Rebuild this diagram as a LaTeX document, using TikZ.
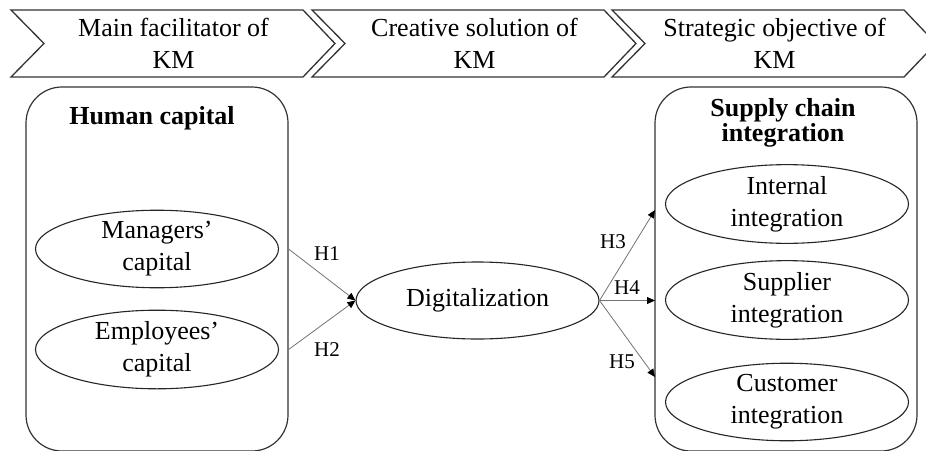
\documentclass[tikz,border=0pt]{standalone}
\usepackage{fontspec}
\setmainfont{Liberation Serif}
\usetikzlibrary{shapes.geometric,arrows.meta}
\tikzset{
  txt/.style={font=\fontsize{26}{32}\selectfont,align=center,inner sep=0pt},
  ttl/.style={font=\bfseries\fontsize{26}{22}\selectfont,align=center,inner sep=0pt},
  hyp/.style={font=\fontsize{21}{25}\selectfont,inner sep=0pt},
  chev/.style={draw=black!80,line width=1.3pt,line join=miter},
  capbox/.style={draw=black!80,line width=1.2pt,rounded corners=36pt,minimum width=262pt,minimum height=364pt,inner sep=0pt},
  cons/.style={ellipse,draw=black!85,line width=1.1pt,minimum width=243pt,minimum height=77pt,inner sep=0pt,txt},
  path/.style={draw=black!55,line width=0.8pt,-{Triangle[length=8pt,width=7pt,color=black]}}
}
\begin{document}
\begin{tikzpicture}[x=1pt,y=-1pt]
\pgfmathsetmacro{\chw}{292}
\pgfmathsetmacro{\chd}{32}
\clip (0,0) rectangle (926,450);
\useasboundingbox (0,0) rectangle (926,450);
\fill[white] (0,0) rectangle (926,450);
\foreach \x/\n/\t in {11/c1/Main facilitator of, 312/c2/Creative solution of, 612/c3/Strategic objective of}{
  \draw[chev](\x,10)--++(\chw,0)--++(\chd,33.5)--++(-\chd,33.5)--++(-\chw,0)--++(\chd+1,-33.5)--cycle;
  \node[txt] (\n) at (\x+\chd+1+\chw/2-16.5,43.5) {\t\\KM};
}
\node[capbox] (hum) at (157,269) {};
\node[ttl] (humt) at (152,118) {Human capital};
\node[cons] (man) at (157,249) {Managers'\\capital};
\node[cons] (emp) at (157,349.5) {Employees'\\capital};
\node[capbox] (sci) at (786,269) {};
\node[ttl] (scit) at (783,123) {Supply chain\\integration};
\node[cons] (int) at (787,204) {Internal\\integration};
\node[cons] (sup) at (787,300) {Supplier\\integration};
\node[cons] (cus) at (787,402) {Customer\\integration};
\node[cons] (dig) at (477.5,300.5) {Digitalization};
\coordinate (t3) at (655,210);
\coordinate (t4) at (655,300.5);
\coordinate (t5) at (655,377);
\draw[path] (man.east -| hum.east)--(dig.west);
\draw[path] (emp.east -| hum.east)--(dig.west);
\draw[path] (dig.east)--(t3);
\draw[path] (dig.east)--(t4);
\draw[path] (dig.east)--(t5);
\node[hyp] (h1) at (327,254) {H1};
\node[hyp] (h2) at (327,350) {H2};
\node[hyp] (h3) at (613,242) {H3};
\node[hyp] (h4) at (627,288) {H4};
\node[hyp] (h5) at (622,362) {H5};
\end{tikzpicture}
\end{document}
